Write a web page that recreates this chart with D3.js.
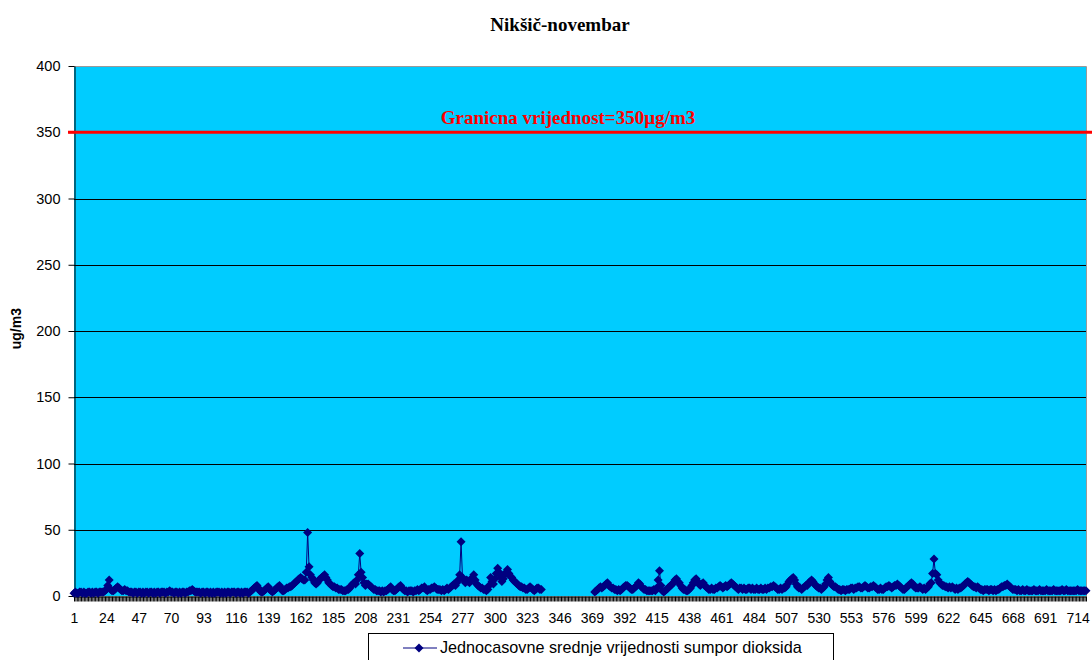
<!DOCTYPE html>
<html><head><meta charset="utf-8">
<script src="https://cdn.jsdelivr.net/npm/d3@7"></script>
<style>body{margin:0;background:#fff} svg{display:block}</style>
</head><body><svg id="c" width="1092" height="660"></svg>
<script>
const chartTitle = "Nikšič-novembar";
const yAxisTitle = "ug/m3";
const seriesName = "Jednocasovne srednje vrijednosti sumpor dioksida";
const limitValue = 350;
const limitLabel = "Granicna vrijednost=350µg/m3";
const yTicks = [0, 50, 100, 150, 200, 250, 300, 350, 400];
const xTickLabels = [1,24,47,70,93,116,139,162,185,208,231,254,277,300,323,346,369,392,415,438,461,484,507,530,553,576,599,622,645,668,691,714];
const N = null;
const so2Values = [
2,3,2,2,3,3,2,3,2,2,
3,3,2,3,2,3,3,2,3,3,
3,3,4,5,8,12,5,4,4,5,
6,7,6,5,4,4,5,4,4,3,
3,3,2,3,3,2,3,3,2,3,
2,3,3,2,3,3,2,3,2,3,
3,2,3,3,3,2,3,3,4,3,
3,2,3,3,2,3,2,3,3,2,
3,3,4,4,5,4,3,3,3,3,
2,3,3,2,3,3,2,3,2,3,
2,3,3,3,2,3,2,3,2,3,
3,2,3,3,3,2,3,3,2,3,
2,3,3,3,2,3,4,5,6,7,
8,6,4,3,3,4,5,6,7,5,
4,3,4,5,6,7,8,6,4,4,
5,6,6,7,7,8,9,10,11,12,
13,14,13,12,12,18,48,22,16,14,
12,10,9,10,12,13,14,15,16,14,
12,10,9,8,7,7,6,6,5,5,
5,4,4,4,5,5,6,8,9,10,
9,12,16,32,18,14,10,8,9,9,
8,7,6,5,5,4,4,4,3,4,
3,4,4,5,6,7,5,4,4,5,
6,7,8,6,5,4,4,3,4,4,
4,3,4,4,5,4,5,6,6,7,
5,4,5,5,6,6,7,6,5,5,
5,4,5,4,5,6,5,6,7,8,
9,8,10,12,16,41,14,12,10,12,
11,10,12,14,16,12,9,8,7,6,
6,5,5,4,5,8,14,11,9,13,
17,21,18,14,11,13,16,18,20,17,
15,14,12,11,10,9,8,7,7,6,
6,5,5,6,7,6,5,4,5,6,
6,5,5,N,N,N,N,N,N,N,
N,N,N,N,N,N,N,N,N,N,
N,N,N,N,N,N,N,N,N,N,
N,N,N,N,N,N,N,N,N,N,
3,4,5,6,7,6,7,8,9,10,
8,7,6,6,5,5,4,5,4,5,
6,7,8,8,7,6,5,5,6,7,
8,10,9,7,6,5,5,4,4,4,
4,4,5,4,6,12,19,8,4,3,
4,5,6,7,8,9,10,12,13,11,
10,8,6,5,5,4,4,5,6,8,
10,12,13,11,9,8,9,10,8,7,
6,5,5,6,5,5,6,6,7,8,
7,6,7,8,7,8,9,10,9,8,
7,6,5,6,6,5,6,5,5,6,
6,5,6,5,5,6,5,5,6,5,
5,6,5,6,6,7,7,8,7,6,
5,5,6,5,6,6,7,9,11,12,
13,14,12,9,7,6,6,5,6,7,
8,8,10,11,12,11,9,8,7,6,
6,5,6,7,9,12,14,11,9,8,
7,7,6,5,5,4,5,5,4,5,
5,5,6,6,5,6,6,7,7,6,
6,7,8,7,6,6,7,7,8,7,
6,5,5,6,5,5,6,7,7,8,
7,6,7,8,8,9,8,7,6,5,
5,6,7,8,9,10,9,7,6,6,
6,7,6,5,6,5,6,7,9,10,
17,28,17,16,12,10,9,8,8,7,
7,6,7,6,7,6,5,6,5,6,
6,7,8,9,10,11,10,9,8,7,
7,6,7,6,5,5,4,5,5,5,
4,5,5,4,5,4,5,5,6,7,
7,8,8,9,8,7,6,5,5,5,
4,5,4,4,5,4,4,5,4,4,
4,4,5,4,4,4,5,4,4,4,
4,5,4,4,4,4,5,4,4,4,
4,4,5,4,4,5,4,4,4,4,
4,4,4,5,4,4,4,4,4,4
];
const categories = so2Values.map((d, i) => i + 1);

const svg = d3.select("#c");
const pLeft = 74, pRight = 1086, pTop = 66, pBottom = 596;
const x = d3.scalePoint().domain(categories).range([pLeft, pRight]);
const y = d3.scaleLinear().domain([0, 400]).range([pBottom, pTop]);
const sans = "'Liberation Sans', Arial, sans-serif";
const serif = "'Liberation Serif', 'Times New Roman', serif";

svg.append("rect").attr("x", pLeft).attr("y", pTop).attr("width", pRight - pLeft).attr("height", pBottom - pTop).attr("fill", "#00CCFF");
svg.append("g").selectAll("line").data(yTicks.filter(d => d > 0 && d < 400)).join("line")
  .attr("x1", pLeft).attr("x2", pRight).attr("y1", d => Math.round(y(d)) + 0.5).attr("y2", d => Math.round(y(d)) + 0.5)
  .attr("stroke", "#000").attr("stroke-width", 1);
svg.append("path").attr("d", `M${pLeft},${pTop + 0.5}H${pRight + 0.5}V${pBottom}`).attr("fill", "none").attr("stroke", "#999");

const ya = svg.append("g").attr("transform", `translate(${pLeft + 0.5},0)`)
  .call(d3.axisLeft(y).tickValues(yTicks).tickSize(6).tickSizeOuter(0).tickPadding(8));
ya.selectAll("text").attr("font-family", sans).attr("font-size", 14.5).attr("fill", "#000");
ya.selectAll("line,path").attr("stroke", "#000");

const xa = svg.append("g").attr("transform", `translate(0,${pBottom + 0.5})`)
  .call(d3.axisBottom(x).tickValues(categories).tickSize(5).tickSizeOuter(0).tickFormat(""));
xa.selectAll("line,path").attr("stroke", "#000");
const xl = svg.append("g").attr("transform", `translate(0,${pBottom})`)
  .call(d3.axisBottom(x).tickValues(xTickLabels).tickSize(0).tickPadding(17));
xl.select(".domain").remove();
xl.selectAll("text").attr("font-family", sans).attr("font-size", 14).attr("fill", "#000");

svg.append("line").attr("x1", pLeft - 6).attr("x2", 1092).attr("y1", y(limitValue)).attr("y2", y(limitValue))
  .attr("stroke", "#FF0000").attr("stroke-width", 3);
svg.append("text").attr("x", 568).attr("y", 124).attr("text-anchor", "middle")
  .attr("font-family", serif).attr("font-weight", "bold").attr("font-size", 19).attr("fill", "#FF0000").text(limitLabel);

const line = d3.line().defined(d => d != null).x((d, i) => x(categories[i])).y(d => y(d));
svg.append("path").datum(so2Values).attr("d", line).attr("fill", "none").attr("stroke", "#000080").attr("stroke-width", 1);
const diamond = "M0,-4.5L4.5,0L0,4.5L-4.5,0Z";
svg.append("g").selectAll("path").data(so2Values.map((v, i) => ({v, c: categories[i]})).filter(d => d.v != null)).join("path")
  .attr("d", diamond).attr("transform", d => `translate(${x(d.c)},${y(d.v)})`).attr("fill", "#000080");

svg.append("text").attr("x", 560).attr("y", 31).attr("text-anchor", "middle")
  .attr("font-family", serif).attr("font-weight", "bold").attr("font-size", 19).attr("fill", "#000").text(chartTitle);
svg.append("text").attr("transform", "translate(21,308) rotate(-90)").attr("text-anchor", "end")
  .attr("font-family", sans).attr("font-weight", "bold").attr("font-size", 14).attr("fill", "#000").text(yAxisTitle);

svg.append("rect").attr("x", 368.5).attr("y", 633.5).attr("width", 465).attr("height", 40).attr("fill", "#fff").attr("stroke", "#000");
svg.append("line").attr("x1", 403).attr("x2", 437).attr("y1", 648).attr("y2", 648).attr("stroke", "#000080").attr("stroke-width", 1);
svg.append("path").attr("d", diamond).attr("transform", "translate(419,648)").attr("fill", "#000080");
svg.append("text").attr("x", 440).attr("y", 653).attr("font-family", sans).attr("font-size", 16.2).attr("fill", "#000").text(seriesName);
</script></body></html>
